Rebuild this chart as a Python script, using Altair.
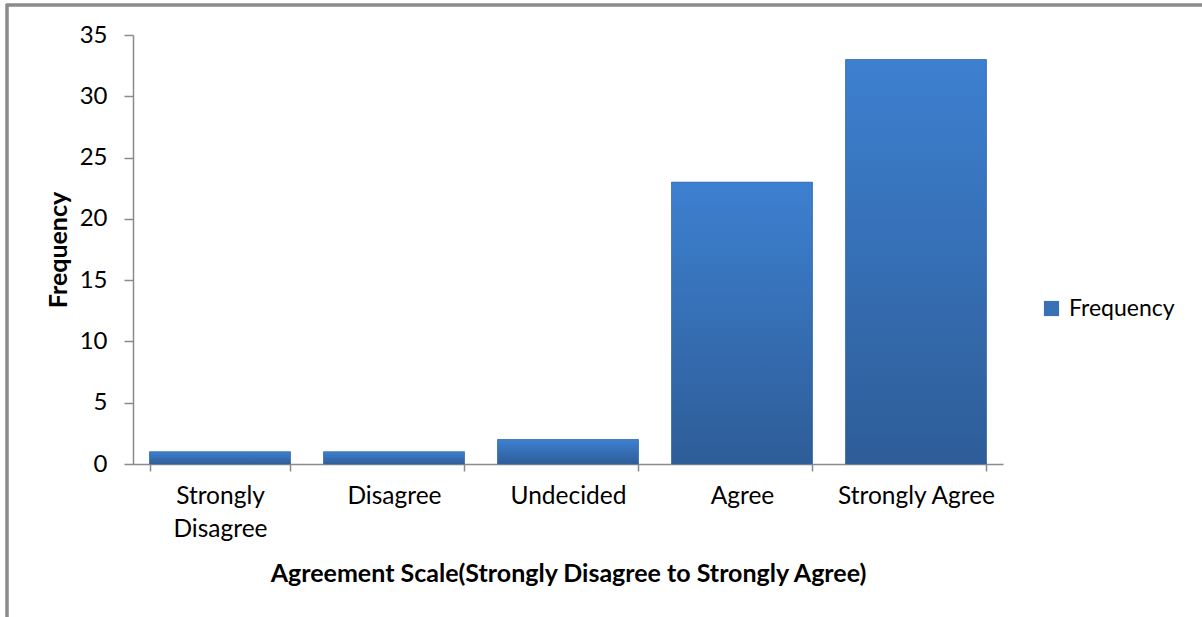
import altair as alt
import pandas as pd

# Survey responses on a five-point agreement scale
categories = ["Strongly Disagree", "Disagree", "Undecided", "Agree", "Strongly Agree"]
frequency = [1, 1, 2, 23, 33]
series = ["Frequency"] * len(categories)
y_ticks = [0, 5, 10, 15, 20, 25, 30, 35]

df = pd.DataFrame({"category": categories, "frequency": frequency, "series": series})

FONT = "Lato"
AXIS_GREY = "#8a8a8a"
FRAME_GREY = "#8c8c8c"
bar_gradient = alt.LinearGradient(
    gradient="linear",
    x1=0, y1=0, x2=0, y2=1,
    stops=[
        alt.GradientStop(color="#3d80d0", offset=0),
        alt.GradientStop(color="#2e5d98", offset=1),
    ],
)

x_enc = alt.X(
    "category:N",
    sort=categories,
    scale=alt.Scale(paddingInner=0.19, paddingOuter=0.095),
    axis=alt.Axis(
        title="Agreement Scale(Strongly Disagree to Strongly Agree)",
        titleFont=FONT, titleFontSize=25, titleFontWeight="bold", titleColor="#000000",
        titleY=109, titleBaseline="middle",
        labelFont=FONT, labelFontSize=24.5, labelColor="#000000",
        labelAngle=0, labelPadding=13, labelLineHeight=33,
        labelExpr="datum.label == 'Strongly Disagree' ? ['Strongly', 'Disagree'] : datum.label",
        tickBand="extent", tickSize=7, tickColor=AXIS_GREY, tickWidth=1.5,
        domainColor=AXIS_GREY, domainWidth=1.5, grid=False,
    ),
)
y_enc = alt.Y(
    "frequency:Q",
    scale=alt.Scale(domain=[0, 35], nice=False),
    axis=alt.Axis(
        title="Frequency",
        titleFont=FONT, titleFontSize=25, titleFontWeight="bold", titleColor="#000000",
        titleX=-75, titleY=214.5, titleAngle=-90, titleBaseline="middle", titleAlign="center",
        values=y_ticks,
        labelFont=FONT, labelFontSize=24, labelColor="#000000", labelPadding=17,
        tickSize=9, tickColor=AXIS_GREY, tickWidth=1.5,
        domainColor=AXIS_GREY, domainWidth=1.5,
        grid=False,
    ),
)

# Flat-coloured layer carries the legend entry
legend_bars = alt.Chart(df).mark_bar().encode(
    x=x_enc,
    y=y_enc,
    color=alt.Color(
        "series:N",
        scale=alt.Scale(range=["#3a70b6"]),
        legend=alt.Legend(
            title=None, orient="none", legendX=907, legendY=262,
            symbolType="square", symbolSize=230, symbolStrokeWidth=0,
            labelFont=FONT, labelFontSize=23, labelColor="#000000", labelOffset=6,
        ),
    ),
)

# Gradient-filled bars drawn on top
gradient_bars = alt.Chart(df).mark_bar(
    fill=bar_gradient, stroke="#3466a6", strokeWidth=0.6
).encode(x=x_enc, y=y_enc)

# Outer chart frame: top and left edges, running to the canvas edges
frame_top = alt.Chart(df).mark_rule(
    color=FRAME_GREY, strokeWidth=2.5, clip=False
).encode(x=alt.value(-127), x2=alt.value(1069), y=alt.value(-30))
frame_left = alt.Chart(df).mark_rule(
    color=FRAME_GREY, strokeWidth=2.5, clip=False
).encode(x=alt.value(-126), y=alt.value(-31), y2=alt.value(582))

chart = alt.layer(frame_top, frame_left, legend_bars, gradient_bars).properties(
    width=870, height=429,
    autosize=alt.AutoSizeParams(type="none"),
    padding={"left": 133, "top": 35, "right": 199, "bottom": 153},
).configure(background="#ffffff").configure_view(stroke=None)

chart.save("out.html", embed_options={"renderer": "svg", "actions": False})
